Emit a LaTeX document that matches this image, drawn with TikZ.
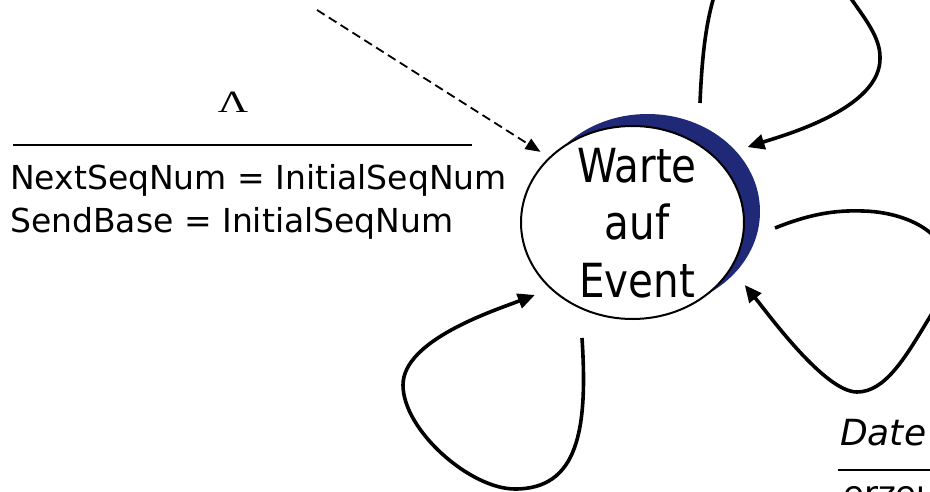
\documentclass[tikz,border=0pt]{standalone}
\usepackage{fontspec}
\setmainfont{DejaVu Sans}
\newfontfamily\lamfont{Liberation Serif}
\usepackage{graphicx}
\usetikzlibrary{arrows.meta,shapes.geometric}
\definecolor{shadowblue}{RGB}{32,40,120}
\begin{document}
\begin{tikzpicture}[x=1pt,y=-1pt,
  loopline/.style={line width=3.6pt, -{Triangle[length=17pt,width=15pt]}},
  dashline/.style={line width=1.8pt, dash pattern=on 9pt off 5pt, -{Triangle[length=15pt,width=12pt]}},
  rule/.style={line width=1.8pt},
  lbl/.style={inner sep=0pt, font=\fontsize{33}{40}\selectfont},
  wtxt/.style={inner sep=0pt, font=\fontsize{47}{56}\selectfont, anchor=base},
  state/.style={ellipse, draw, line width=2pt, fill=white, inner sep=0pt,
    minimum width=223pt, minimum height=193pt}]
\fill[white] (0,0) rectangle (930,492);
\useasboundingbox (0,0) rectangle (930,492);
% shadow and state
\fill[shadowblue] (647.5,211.5) ellipse [x radius=112.5, y radius=97.5];
\node[state] (st) at (632.5,222.5) {};
\node[wtxt] (w1) at (637,183) {\scalebox{0.86}[1]{Warte}};
\node[wtxt] (w2) at (637,240) {\scalebox{0.86}[1]{auf}};
\node[wtxt] (w3) at (637,297) {\scalebox{0.86}[1]{Event}};
% initial transition label
\node[inner sep=0pt, anchor=base] (lam) at (233,113) {\lamfont\fontsize{31}{36}\selectfont\scalebox{1.35}[1]{Λ}};
\draw[rule] (13,145) -- (472,145);
\node[lbl, anchor=base west] (l1) at (10,190) {NextSeqNum = InitialSeqNum};
\node[lbl, anchor=base west] (l2) at (10,233) {SendBase = InitialSeqNum};
% bottom right label
\node[lbl, anchor=base west, font=\fontsize{36}{42}\selectfont\itshape] (dt) at (840,445) {Date};
\draw[rule] (838,470) -- (935,470);
\node[lbl, anchor=base west, font=\fontsize{34}{40}\selectfont] (er) at (843,505) {erzeu};
% dashed initial arrow
\coordinate (d0) at (317,10);
\draw[dashline, shorten >=10pt] (d0) -- (st.142.7);
% top loop
\coordinate (t0) at (700,103);
\draw[loopline, shorten >=33pt] (t0) .. controls (702,55) and (706,25) .. (713,0)
   .. controls (726,-45) and (817,-50) .. (852,0)
   .. controls (866,20) and (880,38) .. (880,57)
   .. controls (882,108) and (785,135) .. (st.38.4);
% right loop
\coordinate (r0) at (775,228);
\draw[loopline, shorten >=21pt] (r0) .. controls (810,214) and (835,210) .. (863,211)
  .. controls (905,212) and (948,232) .. (948,268)
  .. controls (948,290) and (940,300) .. (928,320)
  .. controls (905,358) and (885,392) .. (857,392)
  .. controls (825,392) and (769,315) .. (st.335.4);
% bottom loop
\coordinate (b0) at (582,338);
\draw[loopline, shorten >=16.5pt] (b0) .. controls (588,430) and (578,489) .. (515,489)
  .. controls (470,489) and (403,430) .. (403,385)
  .. controls (403,340) and (494.3,310.5) .. (st.219);
\end{tikzpicture}
\end{document}
